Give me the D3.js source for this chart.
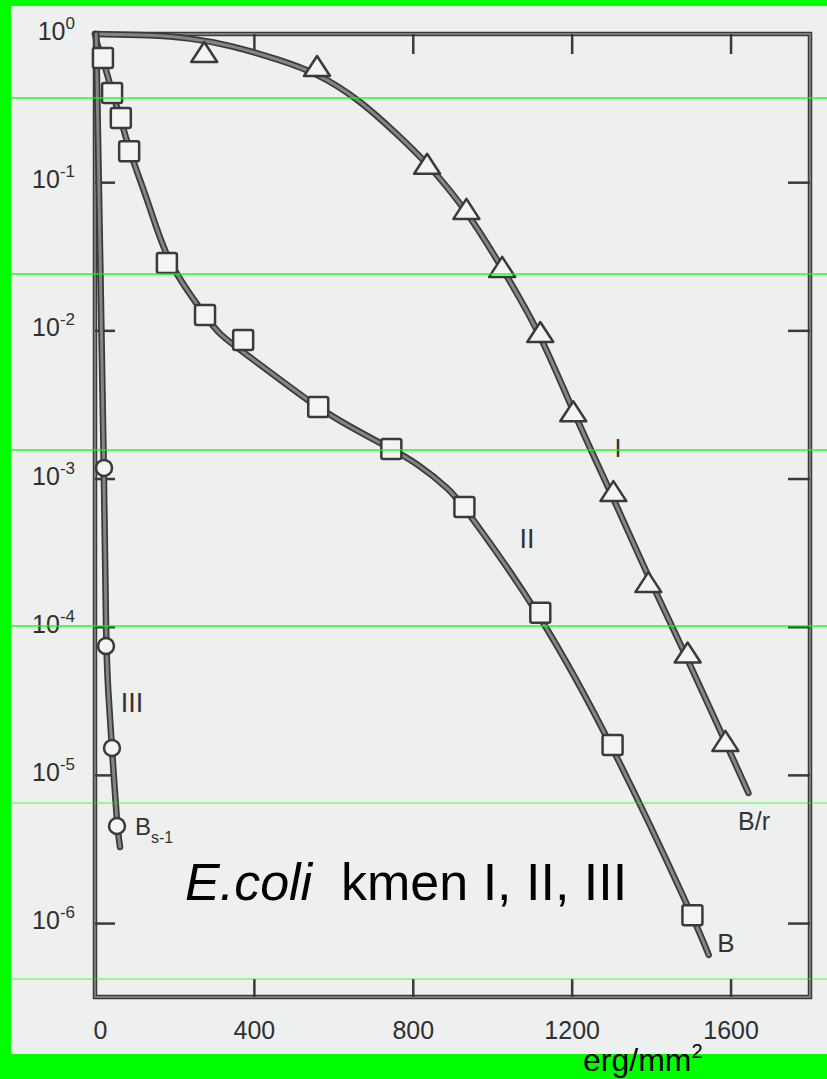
<!DOCTYPE html>
<html>
<head>
<meta charset="utf-8">
<script src="https://cdn.jsdelivr.net/npm/d3@7/dist/d3.min.js"></script>
<style>
body{margin:0;background:#00ff00;}
svg{display:block;}
text{font-family:"Liberation Sans",Arial,Helvetica,sans-serif;}
</style>
</head>
<body>
<script>
// x: dose (erg/mm2), y: surviving fraction (log)
var doseTicks=[0,400,800,1200,1600];
var decades=[1,1e-1,1e-2,1e-3,1e-4,1e-5,1e-6];
var decadeExp=["0","-1","-2","-3","-4","-5","-6"];

// kmen I (B/r) - triangles
var markI=[[275,0.744],[559,0.599],[836,0.131],[935,0.065],[1025,0.0264],[1121,0.0096],[1204,0.0028],[1305,8.1e-4],[1393,1.97e-4],[1492,6.6e-5],[1587,1.67e-5]];
var lineI=[[0,1],[139,0.985],[239,0.94],[340,0.843],[466,0.667],[559,0.545],[667,0.359],[768,0.202],[836,0.135],[935,0.065],[1025,0.0264],[1121,0.0096],[1204,0.0028],[1305,7.4e-4],[1393,2.16e-4],[1492,6.05e-5],[1587,1.67e-5],[1645,7.55e-6]];

// kmen II (B) - squares
var markII=[[20,0.689],[43,0.40],[65,0.271],[86,0.162],[181,0.0285],[277,0.0127],[373,0.0086],[562,0.00304],[746,0.00158],[930,6.42e-4],[1121,1.24e-4],[1303,1.59e-5],[1504,1.13e-6]];
var lineII=[[0,1],[8,0.8],[20,0.689],[43,0.40],[65,0.271],[86,0.162],[139,0.068],[181,0.0285],[277,0.0127],[307,0.0096],[390,0.0066],[474,0.00448],[559,0.00303],[642,0.00223],[743,0.0016],[811,0.00127],[894,8.4e-4],[930,6.42e-4],[1121,1.24e-4],[1303,1.59e-5],[1504,1.13e-6],[1545,6.1e-7]];

// kmen III (Bs-1) - circles
var markIII=[[22.7,1.18e-3],[27.7,7.4e-5],[42.8,1.52e-5],[55.4,4.52e-6]];
var lineIII=[[3,1],[12.6,0.0348],[22.7,1.18e-3],[27.7,7.4e-5],[32.8,3.74e-5],[42.8,1.52e-5],[55.4,4.52e-6],[63,3.26e-6]];

var width=827, height=1079;
var svg=d3.select("body").append("svg").attr("width",width).attr("height",height);

// paper
svg.append("rect").attr("width",width).attr("height",height).attr("fill","#edf0ee");

var x=d3.scaleLinear().domain([0,1800]).range([95,810]);
var y=d3.scaleLog().domain([1,3.17e-7]).range([34,997]);

var dark="#3a3a3a", grey="#7b7b7b";

// frame
svg.append("rect").attr("x",x(0)).attr("y",y(1)).attr("width",x(1800)-x(0)).attr("height",y(3.17e-7)-y(1))
  .attr("fill","none").attr("stroke",dark).attr("stroke-width",4.5);
svg.append("rect").attr("x",x(0)).attr("y",y(1)).attr("width",x(1800)-x(0)).attr("height",y(3.17e-7)-y(1))
  .attr("fill","none").attr("stroke",grey).attr("stroke-width",2);

// inward ticks
function ticks(g){
  g.select(".domain").remove();
  g.selectAll(".tick line").attr("stroke",dark).attr("stroke-width",2.5);
  g.selectAll(".tick text").remove();
}
svg.append("g").attr("transform","translate(0,"+y(3.17e-7)+")")
  .call(d3.axisBottom(x).tickValues(doseTicks.slice(1)).tickSize(-18)).call(ticks);
svg.append("g").attr("transform","translate(0,"+y(1)+")")
  .call(d3.axisTop(x).tickValues(doseTicks.slice(1)).tickSize(-20)).call(ticks);
svg.append("g").attr("transform","translate("+x(0)+",0)")
  .call(d3.axisLeft(y).tickValues(decades.slice(1)).tickSize(-20)).call(ticks);
svg.append("g").attr("transform","translate("+x(1800)+",0)")
  .call(d3.axisRight(y).tickValues(decades.slice(1)).tickSize(-22)).call(ticks);

// x labels
var xl=svg.append("g").attr("transform","translate(0,"+y(3.17e-7)+")")
  .call(d3.axisBottom(x).tickValues(doseTicks).tickSize(0).tickPadding(24).tickFormat(d3.format("d")));
xl.select(".domain").remove();
xl.selectAll("text").attr("font-size",25).attr("fill","#303030").style("font-family","'Liberation Sans',Arial,sans-serif");
xl.selectAll(".tick").filter(function(d){return d===0;}).select("text").attr("dx",5);

// y labels 10^n
var yl=svg.selectAll(".ylab").data(decades).enter().append("text")
  .attr("class","ylab").attr("x",75).attr("y",function(d){return y(d)+6;})
  .attr("text-anchor","end").attr("font-size",25).attr("fill","#303030");
yl.append("tspan").text("10");
yl.append("tspan").attr("dy",-11).attr("font-size",17).text(function(d,i){return decadeExp[i];});

// curves
var line=d3.line().x(function(d){return x(d[0]);}).y(function(d){return y(d[1]);}).curve(d3.curveBasis);
[lineI,lineII,lineIII].forEach(function(c){
  svg.append("path").attr("d",line(c)).attr("fill","none").attr("stroke",dark).attr("stroke-width",6.5).attr("stroke-linecap","round");
  svg.append("path").attr("d",line(c)).attr("fill","none").attr("stroke","#858585").attr("stroke-width",3).attr("stroke-linecap","round");
});

// markers
var mfill="#f3f5f3";
svg.selectAll(".tri").data(markI).enter().append("path").attr("class","tri")
  .attr("transform",function(d){return "translate("+x(d[0])+","+y(d[1])+")";})
  .attr("d","M0,-11L13,9L-13,9Z").attr("fill",mfill).attr("stroke",dark).attr("stroke-width",2.5).attr("stroke-linejoin","round");
svg.selectAll(".sq").data(markII).enter().append("rect").attr("class","sq")
  .attr("x",function(d){return x(d[0])-10;}).attr("y",function(d){return y(d[1])-10;})
  .attr("width",20).attr("height",20).attr("rx",2)
  .attr("fill",mfill).attr("stroke",dark).attr("stroke-width",2.5);
svg.selectAll(".ci").data(markIII).enter().append("circle").attr("class","ci")
  .attr("cx",function(d){return x(d[0]);}).attr("cy",function(d){return y(d[1]);}).attr("r",8)
  .attr("fill",mfill).attr("stroke",dark).attr("stroke-width",2.5);

// curve labels
function lab(t,xx,yy,fs,anchor){
  return svg.append("text").attr("x",xx).attr("y",yy).attr("font-size",fs).attr("fill","#333")
    .attr("text-anchor",anchor||"middle").text(t);
}
lab("I",618,457,25);
lab("II",527,548,27);
lab("III",132,712,27);
lab("B/r",754,830,25);
lab("B",726,952,26);
var bs=lab("B",135,835,24,"start");
bs.append("tspan").attr("dy",8).attr("font-size",16).text("s-1");

// title
var tt=svg.append("text").attr("x",185).attr("y",900).attr("font-size",52).attr("fill","#000");
tt.append("tspan").attr("font-style","italic").text("E.coli");
tt.append("tspan").text("\u00a0 kmen I, II, III");

// scan artefacts: green strips and thin lines
svg.append("rect").attr("x",0).attr("y",0).attr("width",width).attr("height",6).attr("fill","#00ff00");
svg.append("rect").attr("x",0).attr("y",0).attr("width",11).attr("height",height).attr("fill","#00ff00");
svg.append("rect").attr("x",0).attr("y",1054).attr("width",width).attr("height",height-1054).attr("fill","#00ff00");
var glines=[98,274,450,626,803,979];
svg.selectAll(".gl").data(glines).enter().append("line").attr("class","gl")
  .attr("x1",11).attr("x2",width).attr("y1",function(d){return d;}).attr("y2",function(d){return d;})
  .attr("stroke","#00ff00").attr("stroke-width",1.3)
  .attr("opacity",function(d){return (d===803||d===979)?0.45:0.85;});

// unit label
var un=svg.append("text").attr("x",583).attr("y",1071).attr("font-size",32).attr("fill","#000");
un.append("tspan").text("erg/mm");
un.append("tspan").attr("dy",-13).attr("font-size",20).text("2");
</script>
</body>
</html>
